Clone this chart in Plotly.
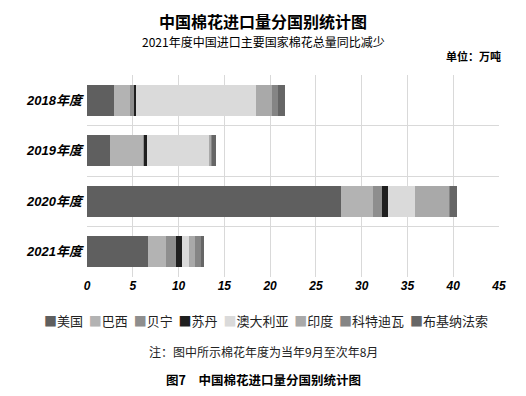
import plotly.graph_objects as go

years = ["2018年度", "2019年度", "2020年度", "2021年度"]
countries = ["美国", "巴西", "贝宁", "苏丹", "澳大利亚", "印度", "科特迪瓦", "布基纳法索"]
values = {
    "美国":     [3.0, 2.5, 27.7, 6.7],
    "巴西":     [1.7, 3.65, 3.5, 1.95],
    "贝宁":     [0.4, 0.05, 1.0, 1.05],
    "苏丹":     [0.26, 0.35, 0.65, 0.7],
    "澳大利亚": [13.1, 6.85, 3.0, 0.7],
    "印度":     [1.8, 0.2, 3.75, 0.72],
    "科特迪瓦": [0.6, 0.05, 0.1, 0.62],
    "布基纳法索": [0.73, 0.4, 0.75, 0.3],
}
colors = ["#5f5f5f", "#b3b3b3", "#8e8e8e", "#1f1f1f", "#dadada", "#a9a9a9", "#858585", "#666666"]
x_ticks = [0, 5, 10, 15, 20, 25, 30, 35, 40, 45]

fig = go.Figure()
for c, col in zip(countries, colors):
    fig.add_trace(go.Bar(
        y=years, x=values[c], name=c, orientation="h",
        marker=dict(color=col, line=dict(width=0)),
        showlegend=False,
    ))

# page has an 8px body margin; compensate
OFF = 8
W, H = 526 - OFF, 396 - OFF
L, R, T, B = 87 - OFF, 27, 75 - OFF, 119

font_cjk = "Noto Sans CJK SC"
fig.update_layout(
    barmode="stack",
    bargap=0.38,
    width=W, height=H,
    margin=dict(l=L, r=R, t=T, b=B, autoexpand=False),
    plot_bgcolor="white", paper_bgcolor="white",
    font=dict(family=font_cjk, color="#000"),
    xaxis=dict(
        range=[0, 45], tickvals=x_ticks, showgrid=True, gridcolor="#d9d9d9", gridwidth=1,
        zeroline=False, showline=False, ticks="",
        tickfont=dict(family="Liberation Sans", size=12, weight="bold", style="italic"),
        fixedrange=True,
    ),
    yaxis=dict(
        categoryorder="array", categoryarray=years, autorange="reversed",
        tickson="boundaries", showgrid=True, gridcolor="#d9d9d9", gridwidth=1,
        showline=False, ticks="", ticklabelstandoff=4,
        tickfont=dict(family="Liberation Sans, " + font_cjk, size=13, weight="bold", style="italic"),
    ),
)

# legend built as text with coloured square markers
legend_text = " &nbsp;".join(
    f'<span style="color:{col}">■</span>{c}' for c, col in zip(countries, colors)
)

anns = [
    dict(text="<b>中国棉花进口量分国别统计图</b>", x=263, y=8, size=16, color="#000", anchor="top"),
    dict(text="2021年度中国进口主要国家棉花总量同比减少", x=263, y=41, size=12, color="#000", anchor="middle"),
    dict(text="<b>单位：万吨</b>", x=473, y=56, size=11, color="#000", anchor="middle"),
    dict(text=legend_text, x=266, y=320, size=13, color="#222", anchor="middle"),
    dict(text="注：图中所示棉花年度为当年9月至次年8月", x=263, y=351, size=12, color="#222", anchor="middle"),
    dict(text="<b>图7　中国棉花进口量分国别统计图</b>", x=263, y=379, size=12.5, color="#000", anchor="middle"),
]
pw, ph = W - L - R, H - T - B
for a in anns:
    fig.add_annotation(
        text=a["text"], xref="paper", yref="paper",
        x=(a["x"] - OFF - L) / pw, y=(H - (a["y"] - OFF) - B) / ph,
        xanchor="center", yanchor=a["anchor"], showarrow=False, borderpad=0,
        font=dict(family=font_cjk, size=a["size"], color=a["color"]),
    )

fig.write_html("out.html")
